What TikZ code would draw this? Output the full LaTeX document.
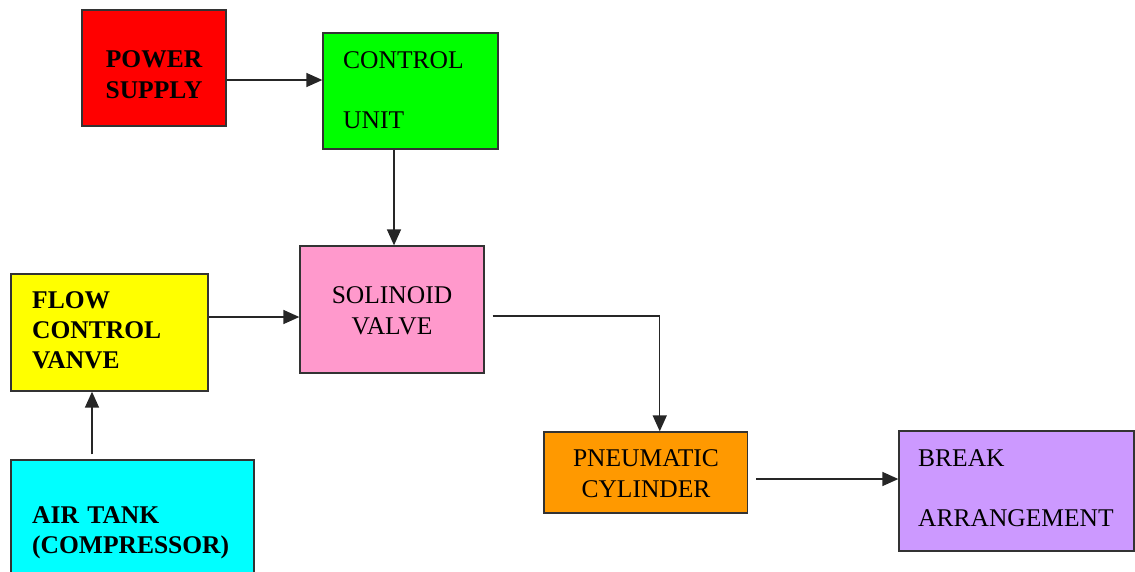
\documentclass[tikz,border=0pt]{standalone}
\usepackage{fontspec}
\setmainfont{Liberation Serif}
\usetikzlibrary{arrows.meta}

\definecolor{psred}{HTML}{FF0000}
\definecolor{cugreen}{HTML}{00FF00}
\definecolor{svpink}{HTML}{FF99CC}
\definecolor{fcyellow}{HTML}{FFFF00}
\definecolor{atcyan}{HTML}{00FFFF}
\definecolor{pcorange}{HTML}{FF9900}
\definecolor{brviolet}{HTML}{CC99FF}
\definecolor{edge}{HTML}{333333}

\tikzset{
  blockbox/.style={draw=edge, line width=1.3pt, inner sep=0pt},
  lbl/.style={inner sep=0pt, text width=#1},
  lbl/.default=220pt,
  arr/.style={draw=black!85, line width=1.4pt, -{Triangle[length=16pt,width=14pt]}},
}

\begin{document}
\begin{tikzpicture}[x=1pt, y=-1pt]
  \useasboundingbox (0,0) rectangle (1135,571);
  \clip (0,0) rectangle (1135,571);

  % blocks
  \node[blockbox, fill=psred,    minimum width=144pt, minimum height=116pt] (pw) at (154,68) {};
  \node[blockbox, fill=cugreen,  minimum width=175pt, minimum height=116pt] (cu) at (410.5,91) {};
  \node[blockbox, fill=svpink,   minimum width=184pt, minimum height=127pt] (so) at (392,309.5) {};
  \node[blockbox, fill=fcyellow, minimum width=197pt, minimum height=117pt] (fc) at (109.5,332.5) {};
  \node[blockbox, fill=atcyan,   minimum width=243pt, minimum height=140pt] (at) at (132.5,530) {};
  \node[blockbox, fill=pcorange, minimum width=203.5pt, minimum height=81pt] (pn) at (645.75,472.5) {};
  \node[blockbox, fill=brviolet, minimum width=235pt, minimum height=120pt] (br) at (1016.5,491) {};

  % block texts
  \node[lbl=140pt, align=center, anchor=base, font=\fontsize{25.5}{31}\selectfont\bfseries] (pwt) at (154,67) {POWER\\SUPPLY};
  \node[lbl, align=left, anchor=base west, font=\fontsize{25.5}{31}\selectfont] (cut) at (343,68) {CONTROL\\[29pt]UNIT};
  \node[lbl=180pt, align=center, anchor=base, font=\fontsize{25.5}{31}\selectfont] (sot) at (392,303) {SOLINOID\\VALVE};
  \node[lbl, align=left, anchor=base west, font=\fontsize{25.5}{30}\selectfont\bfseries] (fct) at (32,308) {FLOW\\CONTROL\\VANVE};
  \node[lbl=240pt, align=left, anchor=base west, font=\fontsize{25.5}{30}\selectfont\bfseries] (att) at (32,523) {AIR TANK\\(COMPRESSOR)};
  \node[lbl=200pt, align=center, anchor=base, font=\fontsize{25.5}{31}\selectfont] (pnt) at (646,466) {PNEUMATIC\\CYLINDER};
  \node[lbl, align=left, anchor=base west, font=\fontsize{25.5}{31}\selectfont] (brt) at (918,466) {BREAK\\[29pt]ARRANGEMENT};

  % connectors
  \coordinate (p1) at ([yshift=-12pt]pw.east);
  \draw[arr] (p1) -- (p1 -| cu.west);

  \coordinate (c1) at ([xshift=-16.5pt]cu.south);
  \draw[arr] (c1) -- (c1 |- so.north);

  \coordinate (f1) at ([yshift=15.5pt]fc.east);
  \draw[arr] (f1) -- (f1 -| so.west);

  \coordinate (a1) at ([xshift=-17.5pt]fc.south);
  \coordinate (a0) at (a1 |- at.north);
  \draw[arr] ([yshift=5pt]a0) -- (a1);

  \coordinate (s1) at ([yshift=-6.5pt]so.east);
  \draw[arr] ([xshift=8pt]s1) -| ([xshift=14pt]pn.north);

  \coordinate (n1) at ([yshift=-6.5pt]pn.east);
  \draw[arr] ([xshift=8pt]n1) -- (n1 -| br.west);
\end{tikzpicture}
\end{document}
